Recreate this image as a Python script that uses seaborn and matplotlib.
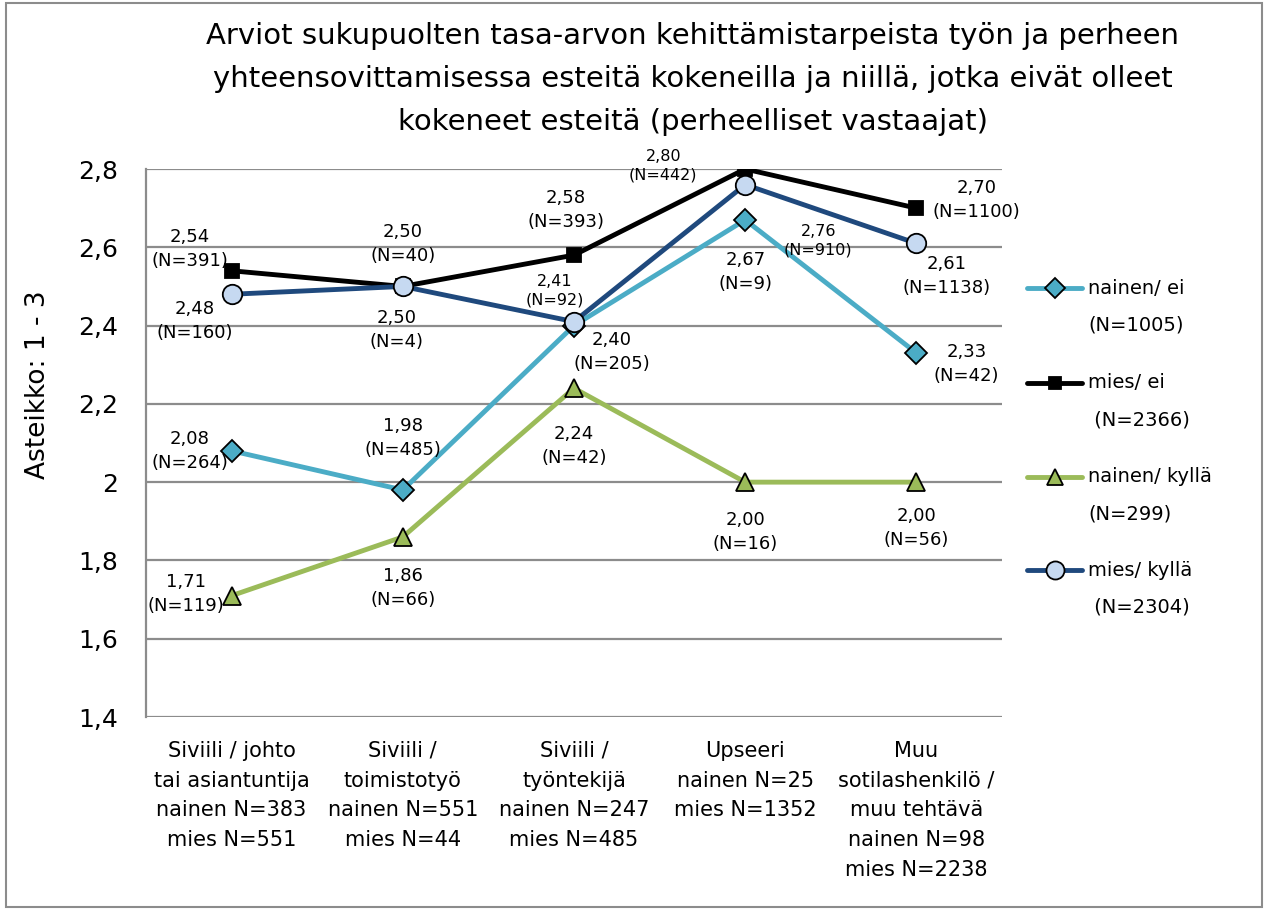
import matplotlib
matplotlib.use("Agg")
import matplotlib.pyplot as plt
from matplotlib.lines import Line2D
from matplotlib.patches import Rectangle
import seaborn as sns
import pandas as pd

# ---- data ----
categories = [
    "Siviili / johto\ntai asiantuntija\nnainen N=383\nmies N=551",
    "Siviili /\ntoimistotyö\nnainen N=551\nmies N=44",
    "Siviili /\ntyöntekijä\nnainen N=247\nmies N=485",
    "Upseeri\nnainen N=25\nmies N=1352",
    "Muu\nsotilashenkilö /\nmuu tehtävä\nnainen N=98\nmies N=2238",
]
series_names = ["nainen/ ei", "mies/ ei", "nainen/ kyllä", "mies/ kyllä"]
legend_n = ["(N=1005)", " (N=2366)", "(N=299)", " (N=2304)"]

nainen_ei = [2.08, 1.98, 2.40, 2.67, 2.33]
mies_ei = [2.54, 2.50, 2.58, 2.80, 2.70]
nainen_kylla = [1.71, 1.86, 2.24, 2.00, 2.00]
mies_kylla = [2.48, 2.50, 2.41, 2.76, 2.61]

n_nainen_ei = [264, 485, 205, 9, 42]
n_mies_ei = [391, 40, 393, 442, 1100]
n_nainen_kylla = [119, 66, 42, 16, 56]
n_mies_kylla = [160, 4, 92, 910, 1138]

yticks = [1.4, 1.6, 1.8, 2.0, 2.2, 2.4, 2.6, 2.8]
ytick_labels = ["1,4", "1,6", "1,8", "2", "2,2", "2,4", "2,6", "2,8"]

title = ("Arviot sukupuolten tasa-arvon kehittämistarpeista työn ja perheen\n"
         "yhteensovittamisessa esteitä kokeneilla ja niillä, jotka eivät olleet\n"
         "kokeneet esteitä (perheelliset vastaajat)")
ylabel = "Asteikko: 1 - 3"

values = [nainen_ei, mies_ei, nainen_kylla, mies_kylla]
counts = [n_nainen_ei, n_mies_ei, n_nainen_kylla, n_mies_kylla]

# ---- styles ----
line_colors = ["#4BACC6", "#000000", "#9BBB59", "#1F497D"]
face_colors = ["#4BACC6", "#000000", "#9BBB59", "#C6D9F1"]
markers = ["D", "s", "^", "o"]
msizes = [11, 10, 13, 14]

# data-label offsets (pixels) and font sizes, per series and category
label_offsets = [
    [(-42, 0), (0, 52), (38, -26), (0, -52), (50, -11)],
    [(-42, 22), (0, 42), (-8, 45), (-82, 3), (60, 8)],
    [(-46, 2), (0, -51), (0, -58), (0, -50), (0, -46)],
    [(-37, -27), (-6, -44), (-19, 31), (73, -56), (30, -33)],
]
label_small = [
    [False] * 5,
    [False, False, False, True, False],
    [False] * 5,
    [False, False, True, True, False],
]

sns.set_style("white")
plt.rcParams["font.family"] = ["DejaVu Sans"]
plt.rcParams["text.color"] = "black"
plt.rcParams["xtick.color"] = "black"
plt.rcParams["ytick.color"] = "black"

fig = plt.figure(figsize=(12.65, 9.10), dpi=100)
W, H = 1265, 910
ax = fig.add_axes([146 / W, 1 - 717 / H, 856 / W, 548 / H])

x_pos = list(range(len(categories)))
for name, vals, lc, fc, mk, ms in zip(series_names, values, line_colors,
                                       face_colors, markers, msizes):
    df = pd.DataFrame({"x": x_pos, "y": vals})
    sns.lineplot(data=df, x="x", y="y", ax=ax, color=lc, linewidth=3.5,
                 marker=mk, markersize=ms, markerfacecolor=fc,
                 markeredgecolor="black", markeredgewidth=1.3, zorder=3)

# data labels
for vals, ns, offs, smalls in zip(values, counts, label_offsets, label_small):
    for xi, (v, n, off, sm) in enumerate(zip(vals, ns, offs, smalls)):
        txt = f"{v:.2f}".replace(".", ",") + f"\n(N={n})"
        ax.annotate(txt, (xi, v), xytext=off, textcoords="offset pixels",
                    ha="center", va="center", color="black",
                    fontsize=11.5 if sm else 13,
                    linespacing=1.3 if sm else 1.42, zorder=4)

ax.set_xlim(-0.5, len(categories) - 0.5)
ax.set_ylim(1.4, 2.8)
ax.set_yticks(yticks)
ax.set_yticklabels(ytick_labels, fontsize=18)
ax.set_xticks(x_pos)
ax.set_xticklabels(categories, fontsize=15, linespacing=1.62, va="top")
ax.tick_params(axis="x", length=0, pad=17)
ax.tick_params(axis="y", length=0, pad=20)
ax.set_xlabel("")
ax.set_ylabel("")
ax.grid(axis="y", color="#8C8C8C", linewidth=1.6)
ax.set_axisbelow(True)
for side in ["top", "right", "bottom"]:
    ax.spines[side].set_visible(False)
ax.spines["left"].set_color("#8C8C8C")
ax.spines["left"].set_linewidth(1.6)

# title and axis title
fig.text(693 / W, 1 - 79 / H, title, ha="center", va="center",
         fontsize=21, linespacing=1.7)
fig.text(38 / W, 1 - 385 / H, ylabel, rotation=90, ha="center", va="center",
         fontsize=19)

# legend
leg_y = [288, 383, 477, 570]
for name, extra, lc, fc, mk, ms, yy in zip(series_names, legend_n, line_colors,
                                           face_colors, markers, msizes, leg_y):
    fy = 1 - yy / H
    fig.add_artist(Line2D([1027 / W, 1082 / W], [fy, fy], color=lc,
                          linewidth=3.5, transform=fig.transFigure))
    fig.add_artist(Line2D([1054.5 / W], [fy], marker=mk, markersize=ms - 1,
                          markerfacecolor=fc, markeredgecolor="black",
                          markeredgewidth=1.3, linestyle="none",
                          transform=fig.transFigure))
    fig.text(1088 / W, fy, name, ha="left", va="center", fontsize=14)
    fig.text(1088 / W, 1 - (yy + 37) / H, extra, ha="left", va="center",
             fontsize=14)

# chart border
fig.add_artist(Rectangle((6 / W, 3 / H), 1256 / W, 904 / H, fill=False,
                         edgecolor="#8C8C8C", linewidth=1.5,
                         transform=fig.transFigure))

fig.savefig("out.png", dpi=100)
